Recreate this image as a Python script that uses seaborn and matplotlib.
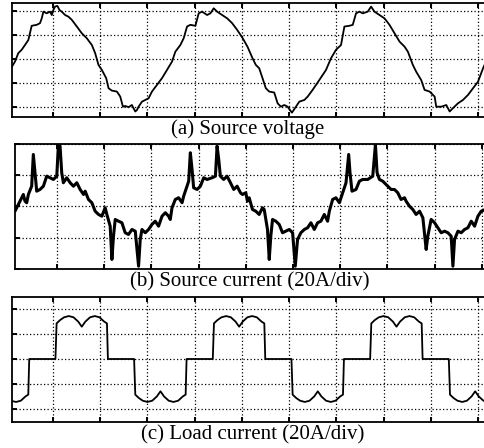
import matplotlib
matplotlib.use("Agg")
import matplotlib.pyplot as plt
import seaborn as sns
import pandas as pd

# ---------------- data ----------------
# (a) source voltage, time in ms, value in V (100 V/div)
volt_t = [-5.22,-4.84,-4.42,-3.99,-3.57,-3.14,-2.84,-2.72,-2.08,-1.66,
          -1.44,-1.23,-0.81,-0.38,-0.17,0.04,0.25,0.55,0.81,1.1,
          1.53,1.95,2.38,3.02,3.65,4.29,4.93,5.35,5.77,6.2,
          6.75,7.05,7.47,8.11,8.54,8.88,9.17,9.6,10.02,10.45,
          10.66,10.87,11.3,11.72,12.14,12.57,13.21,13.85,14.48,15.12,
          15.54,16.18,16.6,17.03,17.45,18.09,18.51,18.94,19.58,20.0,
          20.42,20.85,21.49,22.13,22.76,23.4,24.11,24.71,25.35,25.77,
          26.2,26.62,27.04,27.47,28.11,28.54,28.96,29.39,29.81,30.36,
          30.87,31.3,31.94,32.36,32.99,33.84,34.69,35.33,35.96,36.6,
          37.03,37.66,38.09,38.51,38.94,39.36,40.0,40.42,40.85,41.49,
          42.13,42.76,43.4,44.04,44.68,45.1,45.73,46.15,46.79,47.22,
          47.86,48.5,48.7,49.34,49.98,50.41,50.83,51.46,52.1,52.74,
          53.38,54.01,54.65,54.94]
volt_v = [-32,-11,24,38,58,79,121,138,142,149,
          169,197,190,197,183,204,218,221,204,197,
          183,176,163,135,107,86,58,24,-25,-46,
          -80,-122,-132,-136,-157,-199,-196,-201,-192,-219,
          -213,-199,-178,-171,-164,-136,-108,-80,-46,-11,
          30,58,86,135,142,138,190,197,183,190,
          211,197,183,169,149,121,86,51,3,-25,
          -39,-80,-122,-136,-140,-185,-199,-192,-199,-224,
          -199,-178,-171,-157,-129,-88,-46,3,38,58,
          135,138,142,190,197,190,197,218,197,183,
          169,142,107,72,51,30,-25,-53,-88,-129,
          -136,-157,-199,-199,-192,-219,-205,-185,-171,-150,
          -122,-95,-39,-18]

# (b) source current, time in ms, current in A (20 A/div)
src_t = [-5.35,-4.92,-4.5,-4.29,-4.08,-3.86,-3.65,-3.23,-3.02,-2.8,
         -2.59,-2.17,-1.74,-1.32,-0.89,-0.47,-0.04,0.17,0.38,0.59,
         0.8,1.23,1.66,2.08,2.51,2.93,3.36,3.57,3.99,4.42,
         4.84,5.27,5.69,6.11,6.33,6.75,6.97,7.17,7.39,7.81,
         8.24,8.66,9.08,9.52,9.94,10.36,10.57,10.79,11.21,11.63,
         12.06,12.48,12.9,13.34,13.76,14.18,14.39,14.61,15.03,15.45,
         15.89,16.09,16.52,16.73,16.94,17.16,17.36,17.8,18.22,18.64,
         19.07,19.71,20.13,20.34,20.55,20.76,21.18,21.61,22.04,22.46,
         22.89,23.31,
         23.57,23.99,24.2,24.42,24.84,25.26,25.69,26.11,26.33,26.75,
         26.97,27.17,27.39,27.81,28.24,28.66,29.08,29.52,29.94,30.28,
         30.57,30.99,31.43,31.85,32.27,32.7,33.12,33.54,33.97,34.39,
         34.61,35.03,35.45,35.89,36.31,36.73,37.07,37.24,37.49,38.0,
         38.43,38.85,39.49,40.13,40.47,40.68,40.98,41.4,42.04,42.46,
         42.89,43.31,43.73,44.17,44.37,44.8,45.22,45.64,46.08,46.5,
         46.92,47.13,47.55,47.99,48.41,48.83,49.26,49.68,50.1,50.32,
         50.53,50.96,51.38,51.8,52.23,52.65,53.08,53.5,53.92,54.43]
src_i = [-3.0,1.3,5.6,7.7,3.4,2.4,7.7,13.0,33.3,21.6,
         9.8,10.9,13.0,19.4,18.4,17.3,19.4,39.7,38.6,21.6,
         15.2,18.4,15.2,13.0,15.2,10.9,7.7,9.8,4.5,2.4,
         -3.0,-5.1,-6.2,-0.8,-5.1,-12.6,-33.9,-19.0,-8.3,-9.4,
         -10.4,-16.8,-17.9,-14.7,-15.8,-38.2,-21.1,-14.7,-16.8,-14.7,
         -11.5,-9.4,-12.6,-6.2,-4.0,-6.2,-8.3,-0.8,4.5,5.6,
         2.4,6.6,13.0,16.2,34.4,23.7,12.0,10.9,13.0,18.4,
         17.3,18.4,19.4,38.6,30.1,19.4,17.3,19.4,15.2,10.9,
         13.0,8.8,
         7.7,8.8,3.4,5.6,-1.9,-3.0,-5.1,-0.8,-1.9,-14.7,
         -33.9,-19.0,-8.3,-9.4,-11.5,-16.8,-15.8,-14.7,-16.8,-38.2,
         -21.1,-16.8,-14.7,-13.6,-10.4,-14.7,-10.4,-9.4,-5.1,-9.4,
         -3.0,4.5,5.6,2.4,8.8,15.2,33.3,21.6,9.8,10.9,
         16.2,17.3,17.3,19.4,39.7,21.6,17.3,16.2,13.0,10.9,
         10.9,8.8,4.5,5.6,3.4,0.2,-1.9,-5.1,-3.0,-7.2,
         -27.5,-19.0,-8.3,-10.4,-13.6,-16.8,-15.8,-16.8,-19.0,-38.2,
         -21.1,-15.8,-16.8,-14.7,-13.6,-9.4,-12.6,-6.2,-3.0,-1.9]

# (c) load current, time in ms, current in A (20 A/div)
load_t = [-5.2,-4.7,-4.1,-3.5,-3.15,-3.03,
          0.3,0.45,0.9,1.4,2.0,2.6,3.2,3.65,4.1,4.7,5.3,5.9,6.5,6.85,6.97,
          10.3,10.45,10.9,11.4,12.0,12.6,13.2,13.65,14.1,14.7,15.3,15.9,16.5,16.85,16.97,
          20.3,20.45,20.9,21.4,22.0,22.6,23.2,23.65,24.1,24.7,25.3,25.9,26.5,26.85,26.97,
          30.3,30.45,30.9,31.4,32.0,32.6,33.2,33.65,34.1,34.7,35.3,35.9,36.5,36.85,36.97,
          40.3,40.45,40.9,41.4,42.0,42.6,43.2,43.65,44.1,44.7,45.3,45.9,46.5,46.85,46.97,
          50.3,50.45,50.9,51.4,52.0,52.6,53.2,53.65,54.1,54.7,55.3]
load_i = [-34.0,-34.7,-33.7,-30.2,-28.8,0,
          0,28.8,31.5,33.7,34.7,33.7,30.2,26.1,30.2,33.7,34.7,33.7,30.2,28.8,0,
          0,-28.8,-31.5,-33.7,-34.7,-33.7,-30.2,-26.1,-30.2,-33.7,-34.7,-33.7,-30.2,-28.8,0,
          0,28.8,31.5,33.7,34.7,33.7,30.2,26.1,30.2,33.7,34.7,33.7,30.2,28.8,0,
          0,-28.8,-31.5,-33.7,-34.7,-33.7,-30.2,-26.1,-30.2,-33.7,-34.7,-33.7,-30.2,-28.8,0,
          0,28.8,31.5,33.7,34.7,33.7,30.2,26.1,30.2,33.7,34.7,33.7,30.2,28.8,0,
          0,-28.8,-31.5,-33.7,-34.7,-33.7,-30.2,-26.1,-30.2,-33.7,-34.7]

captions = ["(a) Source voltage", "(b) Source current (20A/div)",
            "(c) Load current (20A/div)"]

# ---------------- style ----------------
sns.set_style("white")
plt.rcParams["font.family"] = ["Liberation Serif", "DejaVu Serif"]

W, H = 484, 448
fig = plt.figure(figsize=(W / 100, H / 100), dpi=100)


def px_axes(left, top, right, bottom):
    return fig.add_axes([left / W, 1 - bottom / H, (right - left) / W, (bottom - top) / H])


panels = [
    dict(box=(12, 3, 485, 117), xlim=(-5.22, 54.9), ylim=(-242, 233),
         yticks=[-200, -100, 0, 100, 200],
         df=pd.DataFrame({"t": volt_t, "v": volt_v}), lw=1.3),
    dict(box=(15, 144, 485, 269), xlim=(-5.35, 54.4), ylim=(-40, 40),
         yticks=[-40, -20, 0, 20, 40],
         df=pd.DataFrame({"t": src_t, "v": src_i}), lw=2.2),
    dict(box=(12, 297, 485, 422), xlim=(-5.22, 54.9), ylim=(-50.9, 50.1),
         yticks=[-40, -20, 0, 20, 40],
         df=pd.DataFrame({"t": load_t, "v": load_i}), lw=1.3),
]

for p in panels:
    ax = px_axes(*p["box"])
    sns.lineplot(data=p["df"], x="t", y="v", ax=ax, color="black",
                 linewidth=p["lw"], sort=False, estimator=None)
    ax.set_xlim(*p["xlim"])
    ax.set_ylim(*p["ylim"])
    ax.set_xticks(list(range(0, 55, 6)))
    ax.set_yticks(p["yticks"])
    ax.set_xlabel("")
    ax.set_ylabel("")
    ax.grid(True, color="black", linestyle=(0, (1, 1.8)), linewidth=0.9)
    ax.tick_params(direction="in", length=3.5, width=1.4, color="black",
                   top=True, bottom=True, left=True, right=False,
                   labelbottom=False, labelleft=False)
    for s in ["left", "top", "bottom"]:
        ax.spines[s].set_visible(True)
        ax.spines[s].set_color("black")
        ax.spines[s].set_linewidth(1.3)
    ax.spines["right"].set_visible(False)

cap_y = [129.5, 281.5, 435]
cap_x = [248, 250, 253]
for txt, cx, cy in zip(captions, cap_x, cap_y):
    fig.text(cx / W, 1 - cy / H, txt, ha="center", va="center",
             fontsize=15, color="black")

fig.savefig("out.png", dpi=100)
